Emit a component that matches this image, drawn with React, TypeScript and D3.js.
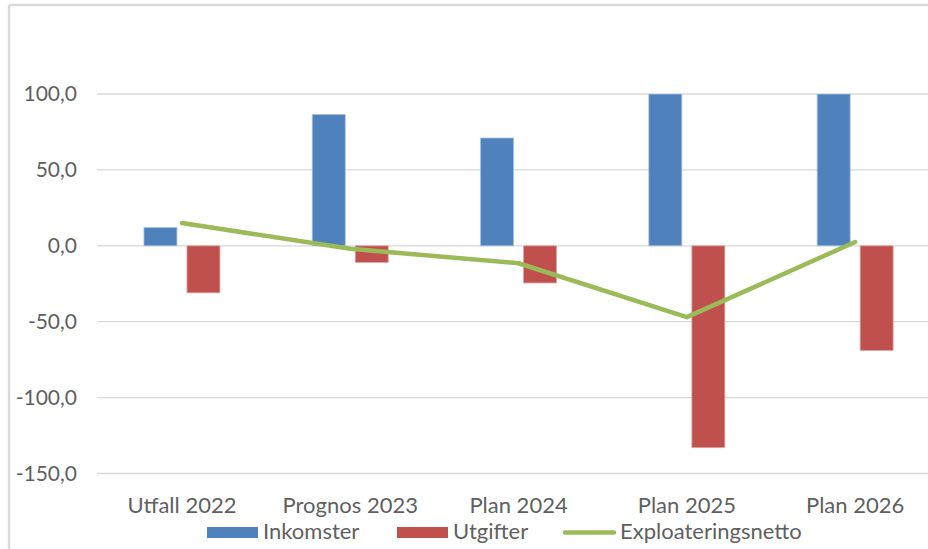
import React from "react";
import * as d3 from "d3";

const categories = ["Utfall 2022", "Prognos 2023", "Plan 2024", "Plan 2025", "Plan 2026"];
const inkomster = [12, 86.5, 71, 100, 100];
const utgifter = [-31, -11, -24.5, -133, -69];
const netto = [15, -2, -11.5, -47, 2.5];
const yTicks = [100, 50, 0, -50, -100, -150];
const seriesNames = ["Inkomster", "Utgifter", "Exploateringsnetto"];

const W = 928;
const H = 549;
const FONT = "Lato, 'Open Sans', sans-serif";
const BLUE = "#4F81BD";
const RED = "#C0504D";
const GREEN = "#9BBB59";
const TXT = "#5f5f5f";

export default function App() {
  const y = d3.scaleLinear().domain([-150, 100]).range([473.5, 94]);
  const x = d3.scaleBand<string>().domain(categories).range([97.8, 939.3]).paddingInner(0).paddingOuter(0);
  const x1 = d3.scaleBand<string>().domain(["Inkomster", "Utgifter"]).range([-38, 38]).paddingInner(0.2326).paddingOuter(0);
  const center = (c: string) => (x(c) as number) + x.bandwidth() / 2;
  const bw = x1.bandwidth();
  const line = d3
    .line<number>()
    .x((_, i) => center(categories[i]))
    .y((d) => y(d));
  const fmt = (v: number) => v.toFixed(1).replace(".", ",");

  const bar = (c: string, v: number, s: string, color: string, stroke: string) => {
    const x0 = center(c) + (x1(s) as number);
    const y0 = Math.min(y(v), y(0));
    const h = Math.abs(y(v) - y(0));
    return <rect key={s + c} x={x0} y={y0} width={bw} height={h} fill={color} stroke={stroke} strokeWidth={0.8} />;
  };

  return (
    <svg width={W} height={H} style={{ position: "absolute", left: 0, top: 0, background: "#fff" }} fontFamily={FONT} fontWeight={400}>
      <defs>
        <clipPath id="plot">
          <rect x={90} y={y(100)} width={W} height={y(-150) - y(100)} />
        </clipPath>
      </defs>
      {/* outer chart border */}
      <line x1={9} y1={5} x2={W} y2={5} stroke="#d9d9d9" strokeWidth={2.5} />
      <line x1={9} y1={5} x2={9} y2={H} stroke="#d9d9d9" strokeWidth={2.5} />

      {/* gridlines */}
      {yTicks.map((t) => (
        <line key={t} x1={97} x2={W} y1={y(t)} y2={y(t)} stroke="#d9d9d9" strokeWidth={1.3} />
      ))}
      {/* y tick labels */}
      {yTicks.map((t) => (
        <text key={"l" + t} x={77} y={y(t)} dy="0.35em" textAnchor="end" fontSize={21} fill={TXT}>
          {fmt(t)}
        </text>
      ))}

      <g clipPath="url(#plot)">
        {categories.map((c, i) => bar(c, inkomster[i], "Inkomster", BLUE, "#a7c0de"))}
        {categories.map((c, i) => bar(c, utgifter[i], "Utgifter", RED, "#e0a8a6"))}
        <path d={line(netto) || ""} fill="none" stroke={GREEN} strokeWidth={4.5} strokeLinecap="round" strokeLinejoin="round" />
      </g>

      {/* category labels */}
      {categories.map((c) => (
        <text key={c} x={center(c)} y={512.5} textAnchor="middle" fontSize={22} fill={TXT}>
          {c}
        </text>
      ))}

      {/* legend */}
      <g>
        <rect x={207} y={527} width={51} height={11} fill={BLUE} />
        <text x={263} y={538.5} fontSize={22} fill={TXT}>{seriesNames[0]}</text>
        <rect x={397} y={527} width={51} height={11} fill={RED} />
        <text x={453} y={538.5} fontSize={22} fill={TXT}>{seriesNames[1]}</text>
        <line x1={565} x2={614} y1={532.5} y2={532.5} stroke={GREEN} strokeWidth={4.5} strokeLinecap="round" />
        <text x={620} y={538.5} fontSize={22} fill={TXT}>{seriesNames[2]}</text>
      </g>
    </svg>
  );
}
